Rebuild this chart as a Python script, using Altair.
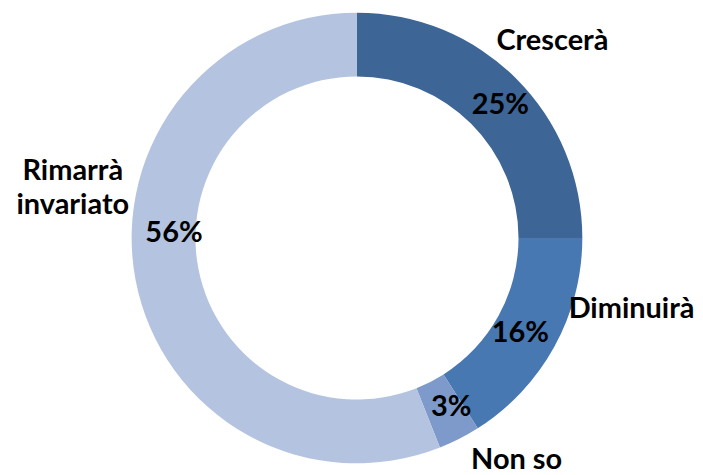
import altair as alt
import pandas as pd

categories = ["Crescerà", "Diminuirà", "Non so", "Rimarrà invariato"]
values = [25, 16, 3, 56]
colors = ["#3D6596", "#4878B1", "#7E9ACA", "#B4C3DF"]

df = pd.DataFrame({
    "cat": categories,
    "val": values,
    "ord": list(range(len(categories))),
    "pct": [f"{v}%" for v in values],
})

CX, CY = 350, 230
R_OUT, R_IN = 226, 162
R_PCT, R_CAT = 195, 280
FONT = "Lato"
FS = 29

# label nudges (style), per category: (dx, dy)
pct_off = {"Crescerà": (6, 5), "Diminuirà": (-7, 1), "Non so": (6, -4), "Rimarrà invariato": (8, -42)}
cat_off = {"Crescerà": (-2, 0), "Diminuirà": (30, -64), "Non so": (33, -27), "Rimarrà invariato": (-10, -120)}

theta_scale = alt.Scale(domain=[0, 100], range=[0, 6.283185307179586])

base = (
    alt.Chart(df)
    .transform_window(end="sum(val)", sort=[alt.SortField("ord")], frame=[None, 0])
    .transform_calculate(start="datum.end - datum.val")
    .transform_calculate(mid="(datum.start + datum.end) / 2")
)

arcs = base.mark_arc(stroke=None).encode(
    theta=alt.Theta("start:Q", scale=theta_scale),
    theta2="end:Q",
    radius=alt.value(R_OUT),
    radius2=alt.value(R_IN),
    x=alt.value(CX),
    y=alt.value(CY),
    color=alt.Color("cat:N", scale=alt.Scale(domain=categories, range=colors), legend=None),
)

layers = [arcs]
for c in categories:
    dx, dy = pct_off[c]
    layers.append(
        base.transform_filter(alt.datum.cat == c)
        .mark_text(font=FONT, fontSize=FS, fontWeight="bold", color="black",
                   baseline="middle", align="center", dx=dx, dy=dy)
        .encode(theta=alt.Theta("mid:Q", scale=theta_scale), radius=alt.value(R_PCT),
                x=alt.value(CX), y=alt.value(CY), text="pct:N")
    )
    dx, dy = cat_off[c]
    kw = dict(lineBreak=" ", lineHeight=34) if c == "Rimarrà invariato" else {}
    layers.append(
        base.transform_filter(alt.datum.cat == c)
        .mark_text(font=FONT, fontSize=FS, fontWeight="bold", color="black",
                   baseline="middle", align="center", dx=dx, dy=dy, **kw)
        .encode(theta=alt.Theta("mid:Q", scale=theta_scale), radius=alt.value(R_CAT),
                x=alt.value(CX), y=alt.value(CY), text="cat:N")
    )

chart = (
    alt.layer(*layers)
    .properties(width=687, height=459, padding=0, background="white")
    .configure_view(stroke=None)
)

chart.save("out.html", embed_options={"renderer": "svg", "actions": False})
